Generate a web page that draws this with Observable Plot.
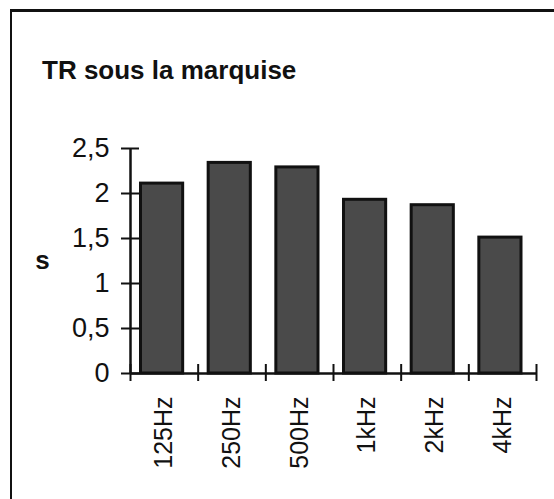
<!DOCTYPE html>
<html>
<head>
<meta charset="utf-8">
<script src="https://cdn.jsdelivr.net/npm/d3@7"></script>
<script src="https://cdn.jsdelivr.net/npm/@observablehq/plot@0.6"></script>
<style>
  html, body { margin: 0; padding: 0; background: #fff; overflow: hidden; }
  #wrap { position: relative; width: 554px; height: 499px; overflow: hidden; font-family: "Liberation Sans", Arial, sans-serif; }
  #frame { position: absolute; left: 10px; top: 9px; width: 600px; height: 600px;
           border-left: 2px solid #111; border-top: 3px solid #111; }
  #title { position: absolute; left: 42px; top: 57px; font-size: 26px; line-height: 26px;
           font-weight: bold; color: #111; white-space: nowrap; }
  #chart { position: absolute; left: 0; top: 0; }
</style>
</head>
<body>
<div id="wrap">
  <div id="frame"></div>
  <div id="chart"></div>
  <div id="title">TR sous la marquise</div>
</div>
<script>
const title = "TR sous la marquise";
const yLabel = "s";
const frequencies = ["125Hz", "250Hz", "500Hz", "1kHz", "2kHz", "4kHz"];
const reverbTimes = [2.11, 2.34, 2.29, 1.93, 1.87, 1.51];
const yTicks = [0, 0.5, 1, 1.5, 2, 2.5];
const yTickLabels = ["0", "0,5", "1", "1,5", "2", "2,5"];

const rows = frequencies.map((f, i) => ({ f, i, v: reverbTimes[i] }));
const bandEdges = d3.range(frequencies.length + 1);

const chart = Plot.plot({
  width: 554,
  height: 499,
  marginLeft: 130,
  marginRight: 18,
  marginTop: 148,
  marginBottom: 126,
  style: { fontFamily: "Liberation Sans, Arial, sans-serif", fontSize: "25px", color: "#111", background: "transparent" },
  x: { domain: [0, frequencies.length], axis: null },
  y: { domain: [0, 2.5], axis: null },
  marks: [
    Plot.rectY(rows, { x1: "i", x2: d => d.i + 1, y: "v", insetLeft: 10.5, insetRight: 15,
                       fill: "#4a4a4a", stroke: "#111", strokeWidth: 3 }),
    Plot.ruleX([0], { stroke: "#111", strokeWidth: 2.5 }),
    Plot.ruleY([0], { stroke: "#111", strokeWidth: 2.5 }),
    Plot.axisX({ ticks: bandEdges, tickSize: 17, dy: -9, fill: "none", label: null, stroke: "#111", strokeWidth: 2 }),
    Plot.axisY({ ticks: yTicks, tickSize: 18, dx: 9, fill: "none", label: null, stroke: "#111", strokeWidth: 2 }),
    Plot.axisY({ ticks: yTicks, tickSize: 0, tickPadding: 21, label: null, fill: "#111", fontSize: 27,
                 tickFormat: d => yTickLabels[yTicks.indexOf(d)] }),
    Plot.text(rows, { x: d => d.i + 0.5, y: 0, text: "f", rotate: -90, textAnchor: "end",
                      dy: 23, fontSize: 25, fill: "#111" }),
    Plot.text([yLabel], { frameAnchor: "left", text: d => d, dx: -88, textAnchor: "middle",
                          fontWeight: "bold", fontSize: 26, fill: "#111" })
  ]
});
document.getElementById("chart").appendChild(chart);
</script>
</body>
</html>
